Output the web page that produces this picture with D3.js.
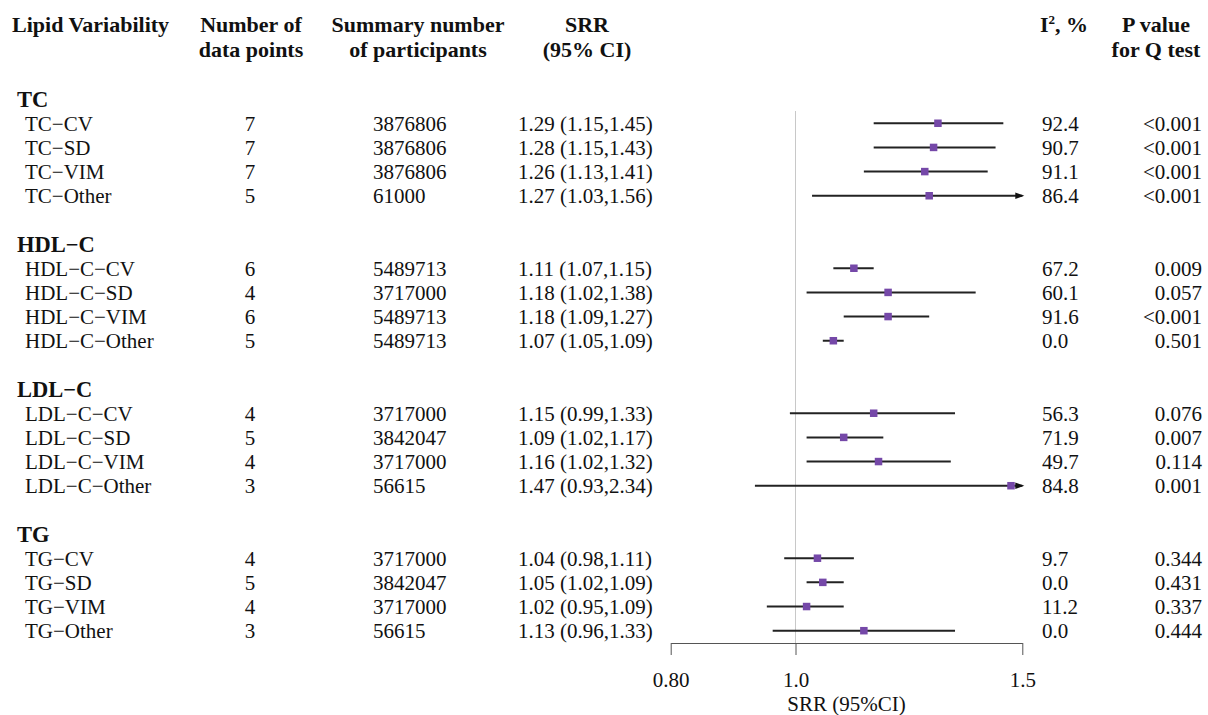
<!DOCTYPE html>
<html>
<head>
<meta charset="utf-8">
<script src="https://cdn.jsdelivr.net/npm/d3@7/dist/d3.min.js"></script>
<style>
  body { margin: 0; background: #fff; }
  text { font-family: "Liberation Serif", "Times New Roman", serif; fill: #111; }
</style>
</head>
<body>
<script>
// forest plot: lipid variability vs outcome, SRR on log scale
const groups = ['TC', 'HDL−C', 'LDL−C', 'TG']
const labels = [
  'TC−CV', 'TC−SD', 'TC−VIM', 'TC−Other',
  'HDL−C−CV', 'HDL−C−SD', 'HDL−C−VIM', 'HDL−C−Other',
  'LDL−C−CV', 'LDL−C−SD', 'LDL−C−VIM', 'LDL−C−Other',
  'TG−CV', 'TG−SD', 'TG−VIM', 'TG−Other'
]
const nPoints = [7, 7, 7, 5, 6, 4, 6, 5, 4, 5, 4, 3, 4, 5, 4, 3]
const participants = [3876806, 3876806, 3876806, 61000, 5489713, 3717000, 5489713, 5489713,
  3717000, 3842047, 3717000, 56615, 3717000, 3842047, 3717000, 56615]
const srr = [1.29, 1.28, 1.26, 1.27, 1.11, 1.18, 1.18, 1.07, 1.15, 1.09, 1.16, 1.47, 1.04, 1.05, 1.02, 1.13]
const lower = [1.15, 1.15, 1.13, 1.03, 1.07, 1.02, 1.09, 1.05, 0.99, 1.02, 1.02, 0.93, 0.98, 1.02, 0.95, 0.96]
const upper = [1.45, 1.43, 1.41, 1.56, 1.15, 1.38, 1.27, 1.09, 1.33, 1.17, 1.32, 2.34, 1.11, 1.09, 1.09, 1.33]
const i2 = [92.4, 90.7, 91.1, 86.4, 67.2, 60.1, 91.6, 0.0, 56.3, 71.9, 49.7, 84.8, 9.7, 0.0, 11.2, 0.0]
const pQ = ['<0.001', '<0.001', '<0.001', '<0.001', '0.009', '0.057', '<0.001', '0.501',
  '0.076', '0.007', '0.114', '0.001', '0.344', '0.431', '0.337', '0.444']
const tickVals = [0.8, 1.0, 1.5]
const tickLabels = ['0.80', '1.0', '1.5']

const width = 1208
const height = 715

// rows: group header then its 4 items, one empty row between groups
let rows = []
groups.forEach(function (g, gi) {
  rows.push({ head: true, label: g, idx: gi * 6 })
  for (let k = 0; k < 4; k++) {
    let i = gi * 4 + k
    rows.push({ head: false, i: i, idx: gi * 6 + 1 + k })
  }
})

let yScale = d3.scaleLinear().domain([0, 22]).range([99.1, 630.7])
let xScale = d3.scaleLog().domain([0.8, 1.5]).range([670.7, 1022.3])

let svg = d3.select('body').append('svg')
  .attr('width', width)
  .attr('height', height)

svg.append('rect').attr('width', width).attr('height', height).attr('fill', '#fff')

// column headers (two lines)
let head = svg.append('g').attr('font-weight', 'bold').attr('font-size', '22px')
function headText (x, anchor, lines) {
  let t = head.append('text').attr('x', x).attr('y', 32).attr('text-anchor', anchor)
  lines.forEach(function (s, k) {
    t.append('tspan').attr('x', x).attr('dy', k === 0 ? 0 : 25).text(s)
  })
}
headText(12, 'start', ['Lipid Variability'])
headText(251, 'middle', ['Number of', 'data points'])
headText(418, 'middle', ['Summary number', 'of participants'])
headText(587, 'middle', ['SRR', '(95% CI)'])
headText(1156, 'middle', ['P value', 'for Q test'])
let i2h = head.append('text').attr('x', 1040).attr('y', 32)
i2h.append('tspan').text('I')
i2h.append('tspan').attr('font-size', '13px').attr('dy', -8).text('2')
i2h.append('tspan').attr('dy', 8).text(', %')

// reference line at 1
svg.append('line')
  .attr('x1', xScale(1)).attr('x2', xScale(1))
  .attr('y1', 111).attr('y2', 643)
  .attr('stroke', '#c8c8c8')
  .attr('stroke-width', 1)

let f2 = d3.format('.2f')
let f1 = d3.format('.1f')

let row = svg.selectAll('.row')
  .data(rows)
  .enter().append('g')
  .attr('class', 'row')
  .attr('transform', function (d) { return 'translate(0,' + yScale(d.idx) + ')' })

row.filter(function (d) { return d.head })
  .append('text')
  .attr('x', 17).attr('y', 7.5)
  .attr('font-weight', 'bold')
  .attr('font-size', '22.5px')
  .text(function (d) { return d.label })

let item = row.filter(function (d) { return !d.head })
  .attr('font-size', '21px')

item.append('text').attr('x', 25).attr('y', 7.5).text(function (d) { return labels[d.i] })
item.append('text').attr('x', 250).attr('y', 7.5).attr('text-anchor', 'middle').text(function (d) { return nPoints[d.i] })
item.append('text').attr('x', 373).attr('y', 7.5).text(function (d) { return participants[d.i] })
item.append('text').attr('x', 518).attr('y', 7.5)
  .text(function (d) { return f2(srr[d.i]) + ' (' + f2(lower[d.i]) + ',' + f2(upper[d.i]) + ')' })
item.append('text').attr('x', 1042).attr('y', 7.5).text(function (d) { return f1(i2[d.i]) })
item.append('text').attr('x', 1202).attr('y', 7.5).attr('text-anchor', 'end').text(function (d) { return pQ[d.i] })

// CI lines, clipped to the axis range
item.append('line')
  .attr('x1', function (d) { return xScale(Math.max(lower[d.i], 0.8)) })
  .attr('x2', function (d) { return xScale(Math.min(upper[d.i], 1.5)) })
  .attr('y1', 0).attr('y2', 0)
  .attr('stroke', '#222')
  .attr('stroke-width', 2)

// arrow when upper bound runs off the axis
item.filter(function (d) { return upper[d.i] > 1.5 })
  .append('path')
  .attr('d', function () {
    let x = xScale(1.5)
    return 'M' + (x + 2) + ',0L' + (x - 7) + ',-3.2L' + (x - 7) + ',3.2Z'
  })
  .attr('fill', '#111')

item.append('rect')
  .attr('x', function (d) { return xScale(srr[d.i]) - 3.75 })
  .attr('y', -3.75)
  .attr('width', 7.5).attr('height', 7.5)
  .attr('fill', '#7548a8')

// x axis
let axis = svg.append('g')
  .attr('transform', 'translate(0,643)')
  .call(d3.axisBottom(xScale)
    .tickValues(tickVals)
    .tickFormat(function (d, i) { return tickLabels[i] })
    .tickSize(12)
    .tickSizeOuter(0)
    .tickPadding(17))
axis.select('.domain').attr('stroke', '#555')
axis.selectAll('.tick line').attr('stroke', '#555')
axis.selectAll('.tick text')
  .attr('font-family', '"Liberation Serif", serif')
  .attr('font-size', '21px')
  .attr('fill', '#111')

svg.append('text')
  .attr('x', (xScale(0.8) + xScale(1.5)) / 2)
  .attr('y', 711)
  .attr('text-anchor', 'middle')
  .attr('font-size', '21px')
  .text('SRR (95%CI)')
</script>
</body>
</html>
